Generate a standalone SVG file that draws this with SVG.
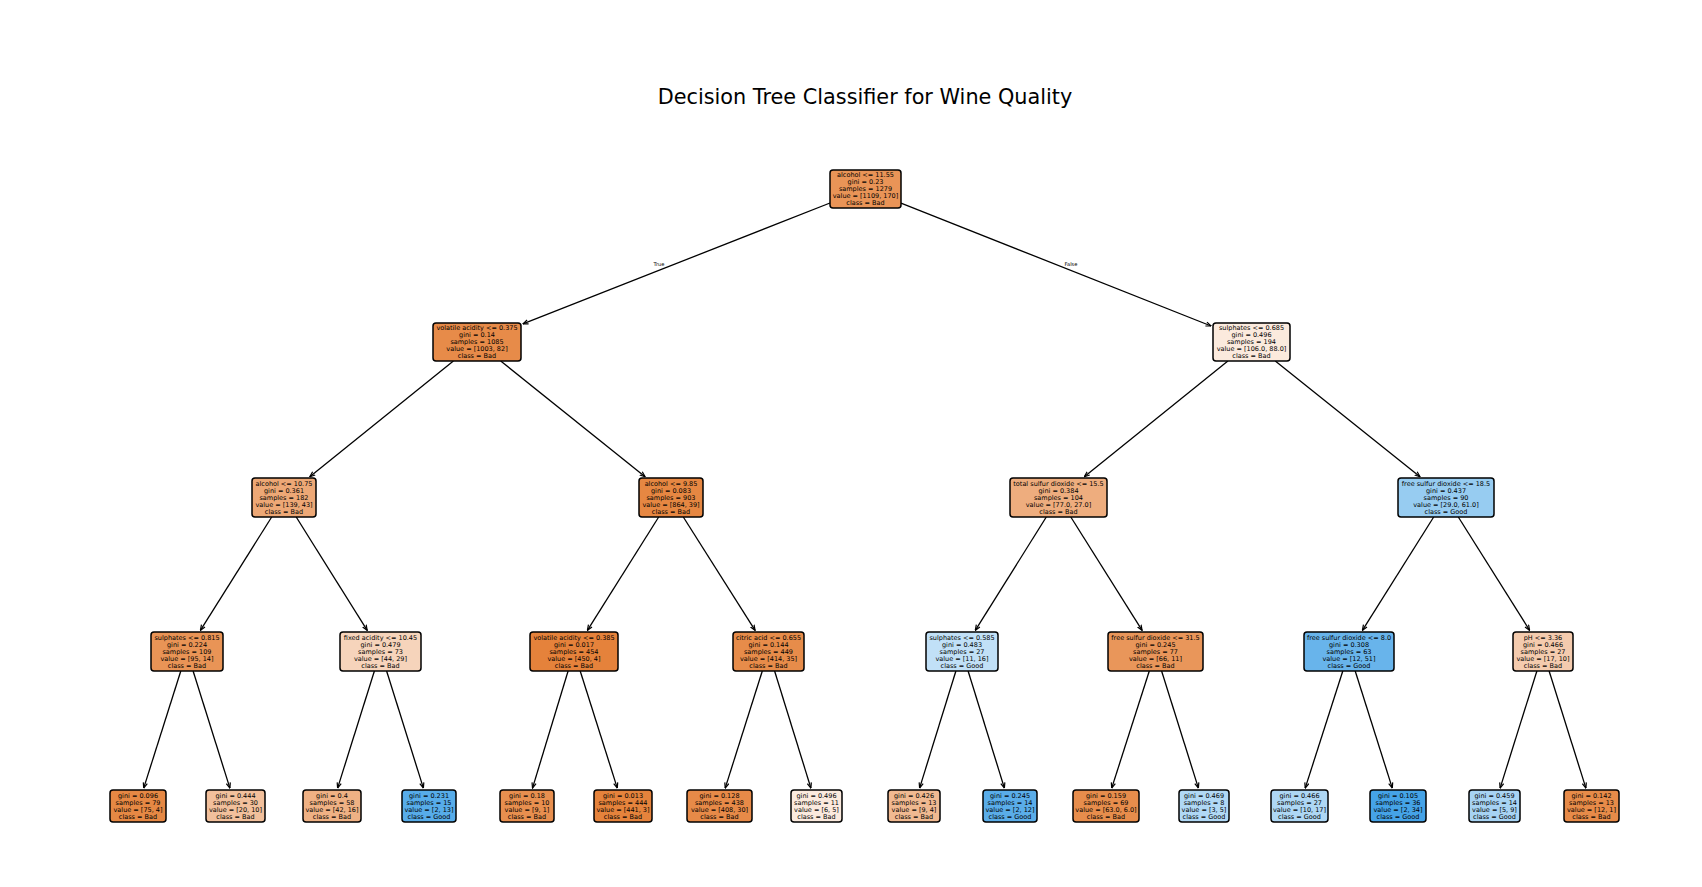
<svg xmlns="http://www.w3.org/2000/svg" width="1702" height="887" viewBox="0 0 1702 887">
<style>
.bg{fill:#ffffff}
.box{stroke:#000;stroke-width:1.5}
.t{font-family:"DejaVu Sans","Liberation Sans",sans-serif;font-size:6.5px;fill:#000;text-anchor:middle}
.lbl{font-family:"DejaVu Sans","Liberation Sans",sans-serif;font-size:5.2px;fill:#000;text-anchor:middle}
.title{font-family:"DejaVu Sans","Liberation Sans",sans-serif;font-size:20.8px;fill:#000;text-anchor:middle}
.e{stroke:#000;stroke-width:1.3;fill:none;marker-end:url(#ah)}
</style>
<defs>
<marker id="ah" markerUnits="userSpaceOnUse" viewBox="0 0 6 6" refX="5.6" refY="3" markerWidth="6" markerHeight="6" orient="auto">
<path d="M0.3,0.9 L5.6,3 L0.3,5.1" fill="none" stroke="#000" stroke-width="1.2"/>
</marker>
</defs>
<rect class="bg" x="0" y="0" width="1702" height="887"/>
<text class="title" x="865" y="104">Decision Tree Classifier for Wine Quality</text>
<g id="connectors">
<line class="e" x1="830" y1="203" x2="522.9" y2="323.9"/>
<line class="e" x1="901" y1="203.1" x2="1211.1" y2="326"/>
<line class="e" x1="453.4" y1="361" x2="309.8" y2="476.7"/>
<line class="e" x1="500.7" y1="361" x2="645.1" y2="476.7"/>
<line class="e" x1="1227.9" y1="361" x2="1084.3" y2="476.7"/>
<line class="e" x1="1275.3" y1="361" x2="1420" y2="476.7"/>
<line class="e" x1="271.7" y1="517" x2="200.4" y2="630.3"/>
<line class="e" x1="296.2" y1="517" x2="367.2" y2="630.3"/>
<line class="e" x1="658.7" y1="517" x2="587.4" y2="630.3"/>
<line class="e" x1="683.3" y1="517" x2="755.1" y2="630.3"/>
<line class="e" x1="1046.3" y1="517" x2="975.3" y2="630.3"/>
<line class="e" x1="1070.8" y1="517" x2="1142.1" y2="630.3"/>
<line class="e" x1="1433.7" y1="517" x2="1362.4" y2="630.3"/>
<line class="e" x1="1458.3" y1="517" x2="1529.6" y2="630.3"/>
<line class="e" x1="180.8" y1="671" x2="143.7" y2="788.1"/>
<line class="e" x1="193.1" y1="671" x2="229.9" y2="788.1"/>
<line class="e" x1="374.4" y1="671" x2="337.6" y2="788.1"/>
<line class="e" x1="386.6" y1="671" x2="423.4" y2="788.1"/>
<line class="e" x1="568.1" y1="671" x2="532.5" y2="788.1"/>
<line class="e" x1="580.2" y1="671" x2="617.3" y2="788.1"/>
<line class="e" x1="762.3" y1="671" x2="725.2" y2="788.1"/>
<line class="e" x1="774.6" y1="671" x2="810.9" y2="788.1"/>
<line class="e" x1="955.9" y1="671" x2="919.6" y2="788.1"/>
<line class="e" x1="968.1" y1="671" x2="1004.4" y2="788.1"/>
<line class="e" x1="1149.3" y1="671" x2="1111.7" y2="788.1"/>
<line class="e" x1="1161.6" y1="671" x2="1198.4" y2="788.1"/>
<line class="e" x1="1342.8" y1="671" x2="1305.2" y2="788.1"/>
<line class="e" x1="1355.2" y1="671" x2="1392.3" y2="788.1"/>
<line class="e" x1="1536.9" y1="671" x2="1500.1" y2="788.1"/>
<line class="e" x1="1549.1" y1="671" x2="1585.9" y2="788.1"/>
<text class="lbl" x="659" y="266">True</text>
<text class="lbl" x="1071" y="266">False</text>
</g>
<g id="n0"><rect class="box" x="830" y="170" width="71" height="38" rx="3" fill="#e99457"/>
<text class="t" x="865.5" y="177.3"><tspan x="865.5">alcohol &lt;= 11.55</tspan><tspan x="865.5" dy="7">gini = 0.23</tspan><tspan x="865.5" dy="7">samples = 1279</tspan><tspan x="865.5" dy="7">value = [1109, 170]</tspan><tspan x="865.5" dy="7">class = Bad</tspan></text></g>
<g id="n1"><rect class="box" x="433" y="323" width="88" height="38" rx="3" fill="#e78b49"/>
<text class="t" x="477" y="330.3"><tspan x="477">volatile acidity &lt;= 0.375</tspan><tspan x="477" dy="7">gini = 0.14</tspan><tspan x="477" dy="7">samples = 1085</tspan><tspan x="477" dy="7">value = [1003, 82]</tspan><tspan x="477" dy="7">class = Bad</tspan></text></g>
<g id="n2"><rect class="box" x="1213" y="323" width="77" height="38" rx="3" fill="#fbeadd"/>
<text class="t" x="1251.5" y="330.3"><tspan x="1251.5">sulphates &lt;= 0.685</tspan><tspan x="1251.5" dy="7">gini = 0.496</tspan><tspan x="1251.5" dy="7">samples = 194</tspan><tspan x="1251.5" dy="7">value = [106.0, 88.0]</tspan><tspan x="1251.5" dy="7">class = Bad</tspan></text></g>
<g id="n3"><rect class="box" x="252" y="478" width="64" height="39" rx="3" fill="#eda876"/>
<text class="t" x="284" y="485.8"><tspan x="284">alcohol &lt;= 10.75</tspan><tspan x="284" dy="7">gini = 0.361</tspan><tspan x="284" dy="7">samples = 182</tspan><tspan x="284" dy="7">value = [139, 43]</tspan><tspan x="284" dy="7">class = Bad</tspan></text></g>
<g id="n4"><rect class="box" x="639" y="478" width="64" height="39" rx="3" fill="#e68742"/>
<text class="t" x="671" y="485.8"><tspan x="671">alcohol &lt;= 9.85</tspan><tspan x="671" dy="7">gini = 0.083</tspan><tspan x="671" dy="7">samples = 903</tspan><tspan x="671" dy="7">value = [864, 39]</tspan><tspan x="671" dy="7">class = Bad</tspan></text></g>
<g id="n5"><rect class="box" x="1010" y="478" width="97" height="39" rx="3" fill="#eead7e"/>
<text class="t" x="1058.5" y="485.8"><tspan x="1058.5">total sulfur dioxide &lt;= 15.5</tspan><tspan x="1058.5" dy="7">gini = 0.384</tspan><tspan x="1058.5" dy="7">samples = 104</tspan><tspan x="1058.5" dy="7">value = [77.0, 27.0]</tspan><tspan x="1058.5" dy="7">class = Bad</tspan></text></g>
<g id="n6"><rect class="box" x="1398" y="478" width="96" height="39" rx="3" fill="#97ccf1"/>
<text class="t" x="1446" y="485.8"><tspan x="1446">free sulfur dioxide &lt;= 18.5</tspan><tspan x="1446" dy="7">gini = 0.437</tspan><tspan x="1446" dy="7">samples = 90</tspan><tspan x="1446" dy="7">value = [29.0, 61.0]</tspan><tspan x="1446" dy="7">class = Good</tspan></text></g>
<g id="n7"><rect class="box" x="151" y="632" width="72" height="39" rx="3" fill="#e99456"/>
<text class="t" x="187" y="639.8"><tspan x="187">sulphates &lt;= 0.815</tspan><tspan x="187" dy="7">gini = 0.224</tspan><tspan x="187" dy="7">samples = 109</tspan><tspan x="187" dy="7">value = [95, 14]</tspan><tspan x="187" dy="7">class = Bad</tspan></text></g>
<g id="n8"><rect class="box" x="340" y="632" width="81" height="39" rx="3" fill="#f6d4bb"/>
<text class="t" x="380.5" y="639.8"><tspan x="380.5">fixed acidity &lt;= 10.45</tspan><tspan x="380.5" dy="7">gini = 0.479</tspan><tspan x="380.5" dy="7">samples = 73</tspan><tspan x="380.5" dy="7">value = [44, 29]</tspan><tspan x="380.5" dy="7">class = Bad</tspan></text></g>
<g id="n9"><rect class="box" x="530" y="632" width="88" height="39" rx="3" fill="#e5823b"/>
<text class="t" x="574" y="639.8"><tspan x="574">volatile acidity &lt;= 0.385</tspan><tspan x="574" dy="7">gini = 0.017</tspan><tspan x="574" dy="7">samples = 454</tspan><tspan x="574" dy="7">value = [450, 4]</tspan><tspan x="574" dy="7">class = Bad</tspan></text></g>
<g id="n10"><rect class="box" x="733" y="632" width="71" height="39" rx="3" fill="#e78c4a"/>
<text class="t" x="768.5" y="639.8"><tspan x="768.5">citric acid &lt;= 0.655</tspan><tspan x="768.5" dy="7">gini = 0.144</tspan><tspan x="768.5" dy="7">samples = 449</tspan><tspan x="768.5" dy="7">value = [414, 35]</tspan><tspan x="768.5" dy="7">class = Bad</tspan></text></g>
<g id="n11"><rect class="box" x="926" y="632" width="72" height="39" rx="3" fill="#c1e0f7"/>
<text class="t" x="962" y="639.8"><tspan x="962">sulphates &lt;= 0.585</tspan><tspan x="962" dy="7">gini = 0.483</tspan><tspan x="962" dy="7">samples = 27</tspan><tspan x="962" dy="7">value = [11, 16]</tspan><tspan x="962" dy="7">class = Good</tspan></text></g>
<g id="n12"><rect class="box" x="1108" y="632" width="95" height="39" rx="3" fill="#e9965a"/>
<text class="t" x="1155.5" y="639.8"><tspan x="1155.5">free sulfur dioxide &lt;= 31.5</tspan><tspan x="1155.5" dy="7">gini = 0.245</tspan><tspan x="1155.5" dy="7">samples = 77</tspan><tspan x="1155.5" dy="7">value = [66, 11]</tspan><tspan x="1155.5" dy="7">class = Bad</tspan></text></g>
<g id="n13"><rect class="box" x="1304" y="632" width="90" height="39" rx="3" fill="#68b4eb"/>
<text class="t" x="1349" y="639.8"><tspan x="1349">free sulfur dioxide &lt;= 8.0</tspan><tspan x="1349" dy="7">gini = 0.308</tspan><tspan x="1349" dy="7">samples = 63</tspan><tspan x="1349" dy="7">value = [12, 51]</tspan><tspan x="1349" dy="7">class = Good</tspan></text></g>
<g id="n14"><rect class="box" x="1513" y="632" width="60" height="39" rx="3" fill="#f4cbae"/>
<text class="t" x="1543" y="639.8"><tspan x="1543">pH &lt;= 3.36</tspan><tspan x="1543" dy="7">gini = 0.466</tspan><tspan x="1543" dy="7">samples = 27</tspan><tspan x="1543" dy="7">value = [17, 10]</tspan><tspan x="1543" dy="7">class = Bad</tspan></text></g>
<g id="n15"><rect class="box" x="110" y="790" width="56" height="32" rx="3" fill="#e68844"/>
<text class="t" x="138" y="797.8"><tspan x="138">gini = 0.096</tspan><tspan x="138" dy="7">samples = 79</tspan><tspan x="138" dy="7">value = [75, 4]</tspan><tspan x="138" dy="7">class = Bad</tspan></text></g>
<g id="n16"><rect class="box" x="206" y="790" width="59" height="32" rx="3" fill="#f2c09c"/>
<text class="t" x="235.5" y="797.8"><tspan x="235.5">gini = 0.444</tspan><tspan x="235.5" dy="7">samples = 30</tspan><tspan x="235.5" dy="7">value = [20, 10]</tspan><tspan x="235.5" dy="7">class = Bad</tspan></text></g>
<g id="n17"><rect class="box" x="303" y="790" width="58" height="32" rx="3" fill="#efb184"/>
<text class="t" x="332" y="797.8"><tspan x="332">gini = 0.4</tspan><tspan x="332" dy="7">samples = 58</tspan><tspan x="332" dy="7">value = [42, 16]</tspan><tspan x="332" dy="7">class = Bad</tspan></text></g>
<g id="n18"><rect class="box" x="402" y="790" width="54" height="32" rx="3" fill="#57ace9"/>
<text class="t" x="429" y="797.8"><tspan x="429">gini = 0.231</tspan><tspan x="429" dy="7">samples = 15</tspan><tspan x="429" dy="7">value = [2, 13]</tspan><tspan x="429" dy="7">class = Good</tspan></text></g>
<g id="n19"><rect class="box" x="500" y="790" width="54" height="32" rx="3" fill="#e88f4f"/>
<text class="t" x="527" y="797.8"><tspan x="527">gini = 0.18</tspan><tspan x="527" dy="7">samples = 10</tspan><tspan x="527" dy="7">value = [9, 1]</tspan><tspan x="527" dy="7">class = Bad</tspan></text></g>
<g id="n20"><rect class="box" x="594" y="790" width="58" height="32" rx="3" fill="#e5833c"/>
<text class="t" x="623" y="797.8"><tspan x="623">gini = 0.013</tspan><tspan x="623" dy="7">samples = 444</tspan><tspan x="623" dy="7">value = [441, 3]</tspan><tspan x="623" dy="7">class = Bad</tspan></text></g>
<g id="n21"><rect class="box" x="687" y="790" width="65" height="32" rx="3" fill="#e78a48"/>
<text class="t" x="719.5" y="797.8"><tspan x="719.5">gini = 0.128</tspan><tspan x="719.5" dy="7">samples = 438</tspan><tspan x="719.5" dy="7">value = [408, 30]</tspan><tspan x="719.5" dy="7">class = Bad</tspan></text></g>
<g id="n22"><rect class="box" x="791" y="790" width="51" height="32" rx="3" fill="#fbeade"/>
<text class="t" x="816.5" y="797.8"><tspan x="816.5">gini = 0.496</tspan><tspan x="816.5" dy="7">samples = 11</tspan><tspan x="816.5" dy="7">value = [6, 5]</tspan><tspan x="816.5" dy="7">class = Bad</tspan></text></g>
<g id="n23"><rect class="box" x="888" y="790" width="52" height="32" rx="3" fill="#f0b991"/>
<text class="t" x="914" y="797.8"><tspan x="914">gini = 0.426</tspan><tspan x="914" dy="7">samples = 13</tspan><tspan x="914" dy="7">value = [9, 4]</tspan><tspan x="914" dy="7">class = Bad</tspan></text></g>
<g id="n24"><rect class="box" x="983" y="790" width="54" height="32" rx="3" fill="#5aade9"/>
<text class="t" x="1010" y="797.8"><tspan x="1010">gini = 0.245</tspan><tspan x="1010" dy="7">samples = 14</tspan><tspan x="1010" dy="7">value = [2, 12]</tspan><tspan x="1010" dy="7">class = Good</tspan></text></g>
<g id="n25"><rect class="box" x="1073" y="790" width="66" height="32" rx="3" fill="#e78d4c"/>
<text class="t" x="1106" y="797.8"><tspan x="1106">gini = 0.159</tspan><tspan x="1106" dy="7">samples = 69</tspan><tspan x="1106" dy="7">value = [63.0, 6.0]</tspan><tspan x="1106" dy="7">class = Bad</tspan></text></g>
<g id="n26"><rect class="box" x="1179" y="790" width="50" height="32" rx="3" fill="#b0d8f5"/>
<text class="t" x="1204" y="797.8"><tspan x="1204">gini = 0.469</tspan><tspan x="1204" dy="7">samples = 8</tspan><tspan x="1204" dy="7">value = [3, 5]</tspan><tspan x="1204" dy="7">class = Good</tspan></text></g>
<g id="n27"><rect class="box" x="1271" y="790" width="57" height="32" rx="3" fill="#aed7f4"/>
<text class="t" x="1299.5" y="797.8"><tspan x="1299.5">gini = 0.466</tspan><tspan x="1299.5" dy="7">samples = 27</tspan><tspan x="1299.5" dy="7">value = [10, 17]</tspan><tspan x="1299.5" dy="7">class = Good</tspan></text></g>
<g id="n28"><rect class="box" x="1370" y="790" width="56" height="32" rx="3" fill="#45a3e7"/>
<text class="t" x="1398" y="797.8"><tspan x="1398">gini = 0.105</tspan><tspan x="1398" dy="7">samples = 36</tspan><tspan x="1398" dy="7">value = [2, 34]</tspan><tspan x="1398" dy="7">class = Good</tspan></text></g>
<g id="n29"><rect class="box" x="1469" y="790" width="51" height="32" rx="3" fill="#a7d3f3"/>
<text class="t" x="1494.5" y="797.8"><tspan x="1494.5">gini = 0.459</tspan><tspan x="1494.5" dy="7">samples = 14</tspan><tspan x="1494.5" dy="7">value = [5, 9]</tspan><tspan x="1494.5" dy="7">class = Good</tspan></text></g>
<g id="n30"><rect class="box" x="1564" y="790" width="55" height="32" rx="3" fill="#e78b49"/>
<text class="t" x="1591.5" y="797.8"><tspan x="1591.5">gini = 0.142</tspan><tspan x="1591.5" dy="7">samples = 13</tspan><tspan x="1591.5" dy="7">value = [12, 1]</tspan><tspan x="1591.5" dy="7">class = Bad</tspan></text></g>
</svg>
